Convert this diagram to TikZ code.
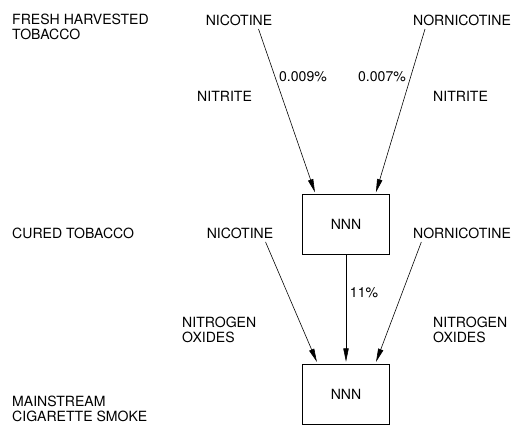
\documentclass[tikz,border=0pt]{standalone}
\usepackage{fontspec}
\setmainfont{TeX Gyre Heros}
\usepackage{tikz}
\usetikzlibrary{arrows.meta}

\begin{document}
\begin{tikzpicture}[x=0.03cm,y=-0.03cm,font=\fontsize{12}{12.8}\selectfont,
  chem/.style={inner sep=1pt},
  stage/.style={anchor=west,align=left,inner sep=0pt},
  nnnbox/.style={draw,line width=.8pt,minimum width=2.61cm,minimum height=1.8cm,inner sep=0pt},
  flow/.style={line width=.5pt,-{Triangle[length=4mm,width=1.6mm]},shorten <=2pt,shorten >=1.5pt}]
\useasboundingbox (0,0) rectangle (512,426);
% stages
\node[stage] (fresh) at (12,26.5) {FRESH HARVESTED\\TOBACCO};
\node[stage] (cured) at (12,233) {CURED TOBACCO};
\node[stage] (smoke) at (12,408.5) {MAINSTREAM\\CIGARETTE SMOKE};
% precursors
\node[chem] (nic1) at (239,20) {NICOTINE};
\node[chem] (nor1) at (462,20) {NORNICOTINE};
\node[chem] (nic2) at (240,233) {NICOTINE};
\node[chem] (nor2) at (462,233) {NORNICOTINE};
\node[stage] (nitl) at (197,96) {NITRITE};
\node[stage] (nitr) at (433,96) {NITRITE};
\node[stage] (noxl) at (182,329.5) {NITROGEN\\OXIDES};
\node[stage] (noxr) at (433,329.5) {NITROGEN\\OXIDES};
% NNN boxes
\node[nnnbox] (nnn1) at (346,224.5) {NNN};
\node[nnnbox] (nnn2) at (346,394) {NNN};
% yields
\node[chem] (y1) at (303,77) {0.009\%};
\node[chem] (y2) at (382,77) {0.007\%};
\node[chem] (y3) at (364,293) {11\%};
% arrows
\draw[flow] ([xshift=16pt]nic1.south) -- (nnn1.135);
\draw[flow] ([xshift=-31pt]nor1.south) -- (nnn1.46);
\draw[flow] ([xshift=21pt]nic2.south) -- (nnn2.133);
\draw[flow] ([xshift=-34pt]nor2.south) -- (nnn2.46);
\draw[flow,shorten <=0pt] (nnn1.south) -- (nnn2.north);
\end{tikzpicture}
\end{document}
